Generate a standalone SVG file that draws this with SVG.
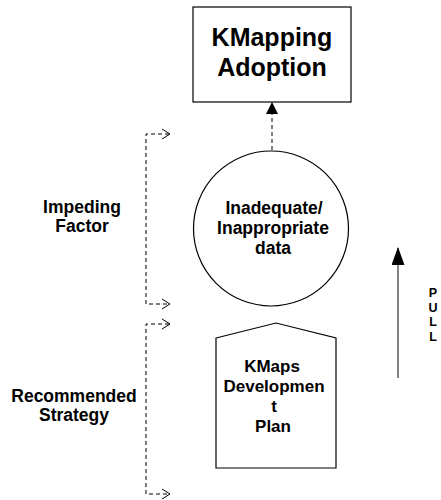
<svg xmlns="http://www.w3.org/2000/svg" width="441" height="500" viewBox="0 0 441 500">
  <defs>
    <style>
      .t { font-family: "Liberation Sans", Arial, sans-serif; font-weight: bold; fill: #000; text-anchor: middle; }
      .node { fill: #fff; stroke: #000; stroke-width: 1.2; }
      .dash { fill: none; stroke: #000; stroke-width: 1; stroke-dasharray: 4 3; }
      .chev { fill: none; stroke: #000; stroke-width: 1; }
    </style>
    <marker id="solidHead" markerWidth="12" markerHeight="14" refX="11" refY="6" orient="auto" markerUnits="userSpaceOnUse">
      <path d="M0,0 L12,6 L0,12 Z" fill="#000"/>
    </marker>
    <marker id="bigHead" markerWidth="18" markerHeight="14" refX="17" refY="6.5" orient="auto" markerUnits="userSpaceOnUse">
      <path d="M0,0 L18,6.5 L0,13 Z" fill="#000"/>
    </marker>
  </defs>
  <rect width="441" height="500" fill="#fff"/>

  <g id="connectors">
    <line class="dash" x1="272" y1="150" x2="272" y2="103" marker-end="url(#solidHead)"/>
    <!-- Impeding bracket -->
    <polyline class="dash" points="169,134 146,134 146,304 169,304"/>
    <polyline class="chev" points="162,129 170,134 162,139"/>
    <polyline class="chev" points="162,299 170,304 162,309"/>
    <!-- Recommended bracket -->
    <polyline class="dash" points="169,324 146,324 146,494 169,494"/>
    <polyline class="chev" points="162,319 170,324 162,329"/>
    <polyline class="chev" points="162,489 170,494 162,499"/>
    <!-- PULL arrow -->
    <line x1="398" y1="378" x2="398" y2="248" stroke="#333" stroke-width="1.2" marker-end="url(#bigHead)"/>
  </g>

  <g id="adoption">
    <rect class="node" x="193" y="7" width="158" height="95" stroke-width="1.5"/>
    <text class="t" x="272" y="46" font-size="25">KMapping</text>
    <text class="t" x="272" y="76" font-size="25">Adoption</text>
  </g>

  <g id="data">
    <circle class="node" cx="271" cy="228.5" r="77.5"/>
    <text class="t" x="274" y="214" font-size="17.5">Inadequate/</text>
    <text class="t" x="273" y="234" font-size="17.5">Inappropriate</text>
    <text class="t" x="273" y="254" font-size="17.5">data</text>
  </g>

  <g id="plan">
    <polygon class="node" points="216,338 276,323 336,338 336,468 216,468"/>
    <text class="t" x="272" y="372" font-size="17">KMaps</text>
    <text class="t" x="274" y="392" font-size="17">Developmen</text>
    <text class="t" x="274" y="412" font-size="17">t</text>
    <text class="t" x="273" y="432" font-size="17">Plan</text>
  </g>

  <g id="impeding">
    <text class="t" x="82" y="213" font-size="17.5">Impeding</text>
    <text class="t" x="82" y="232" font-size="17.5">Factor</text>
  </g>

  <g id="strategy">
    <text class="t" x="74" y="402" font-size="17.5">Recommended</text>
    <text class="t" x="74" y="421" font-size="17.5">Strategy</text>
  </g>

  <g id="pull">
    <text class="t" x="433" y="297" font-size="12.5">P</text>
    <text class="t" x="433" y="311.5" font-size="12.5">U</text>
    <text class="t" x="433" y="326" font-size="12.5">L</text>
    <text class="t" x="433" y="340.5" font-size="12.5">L</text>
  </g>
</svg>
